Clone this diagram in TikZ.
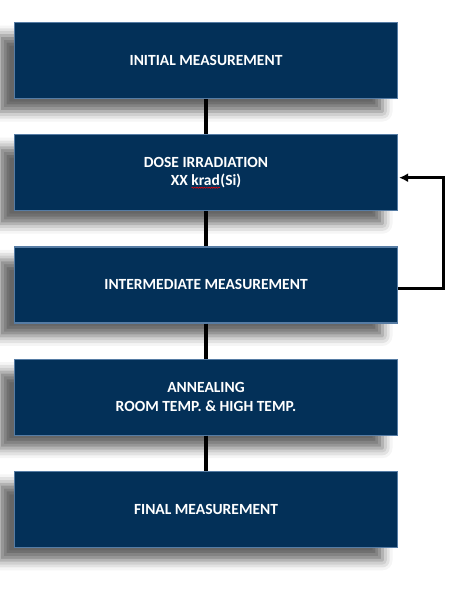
\documentclass[tikz,border=0pt]{standalone}
\usepackage{fontspec}
\setmainfont{Carlito}
\usepackage{tikz}
\usetikzlibrary{positioning,arrows.meta,shadows.blur,decorations.pathmorphing}
\definecolor{navy}{RGB}{3,48,88}
\definecolor{bevel}{RGB}{86,124,164}
\newcommand\spellwave[1]{\setbox0\hbox{#1}\rlap{\usebox0}\tikz[baseline=0pt]\draw[red,line width=0.5pt,decorate,
  decoration={snake,amplitude=0.6pt,segment length=2.4pt}](0pt,-2.2pt)--(\wd0,-2.2pt);}

\begin{document}
\begin{tikzpicture}[x=1pt,y=-1pt,
    stepbox/.style={rectangle,fill=navy,draw=bevel,line width=1.2pt,minimum width=383pt,minimum height=76pt,
      text=white,font=\bfseries\fontsize{15.5}{18.5}\selectfont,align=center,
      blur shadow={shadow xshift=-15pt,shadow yshift=-13pt,shadow blur radius=10pt,shadow opacity=60}},
    link/.style={line width=3.6pt},
    node distance=35pt]
                      \useasboundingbox (0,0) rectangle (466,590);
                      \node[stepbox](m1)at(206,60.5){INITIAL MEASUREMENT};
                      \node[stepbox,below=of m1](m2){DOSE IRRADIATION\\XX \spellwave{krad}(Si)};
                      \node[stepbox,below=of m2](m3){INTERMEDIATE MEASUREMENT};
                      \node[stepbox,below=of m3](m4){ANNEALING\\ROOM TEMP. \& HIGH TEMP.};
                      \node[stepbox,below=of m4](m5){FINAL MEASUREMENT};
                      \foreach \a/\b in {m1/m2,m2/m3,m3/m4,m4/m5} \draw[link](\a.south)--(\b.north);
                      \draw[line width=3pt,-{Latex[length=9pt,width=9pt]}]([yshift=-4pt]m3.east)-- ++(45,0)|-([yshift=-5pt,xshift=1pt]m2.east);
                  \end{tikzpicture}
\end{document}
